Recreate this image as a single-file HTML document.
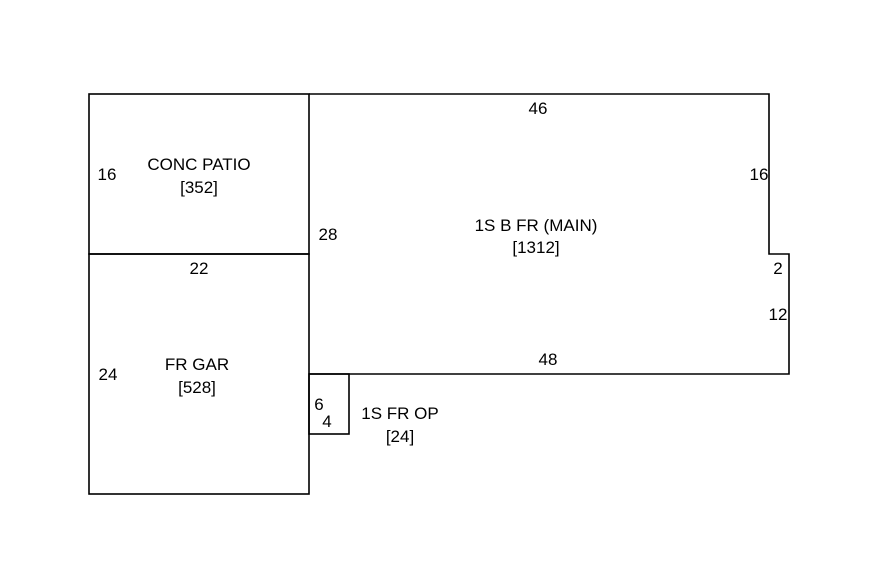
<!DOCTYPE html>
<html><head><style>
body{margin:0;background:#fff}
svg text{font-family:"Liberation Sans",sans-serif;font-size:17px;fill:#000;letter-spacing:0px}
</style></head><body>
<svg width="880" height="570" xmlns="http://www.w3.org/2000/svg">
<g fill="none" stroke="#000" stroke-width="1.6">
<rect x="89" y="94" width="220" height="160"/>
<rect x="89" y="254" width="220" height="240"/>
<polyline points="309,94 769,94 769,254 789,254 789,374 309,374"/>
<rect x="309" y="374" width="40" height="60"/>
</g>
<g text-anchor="middle">
<text x="199" y="170">CONC PATIO</text>
<text x="199" y="193">[352]</text>
<text x="107" y="180">16</text>
<text x="199" y="274">22</text>
<text x="197" y="370">FR GAR</text>
<text x="197" y="393">[528]</text>
<text x="108" y="380">24</text>
<text x="538" y="114">46</text>
<text x="536" y="231">1S B FR (MAIN)</text>
<text x="536" y="253">[1312]</text>
<text x="328" y="240">28</text>
<text x="759" y="180">16</text>
<text x="778" y="274">2</text>
<text x="778" y="320">12</text>
<text x="548" y="365">48</text>
<text x="319" y="410">6</text>
<text x="327" y="427">4</text>
<text x="400" y="419">1S FR OP</text>
<text x="400" y="442">[24]</text>
</g>
</svg>
</body></html>
